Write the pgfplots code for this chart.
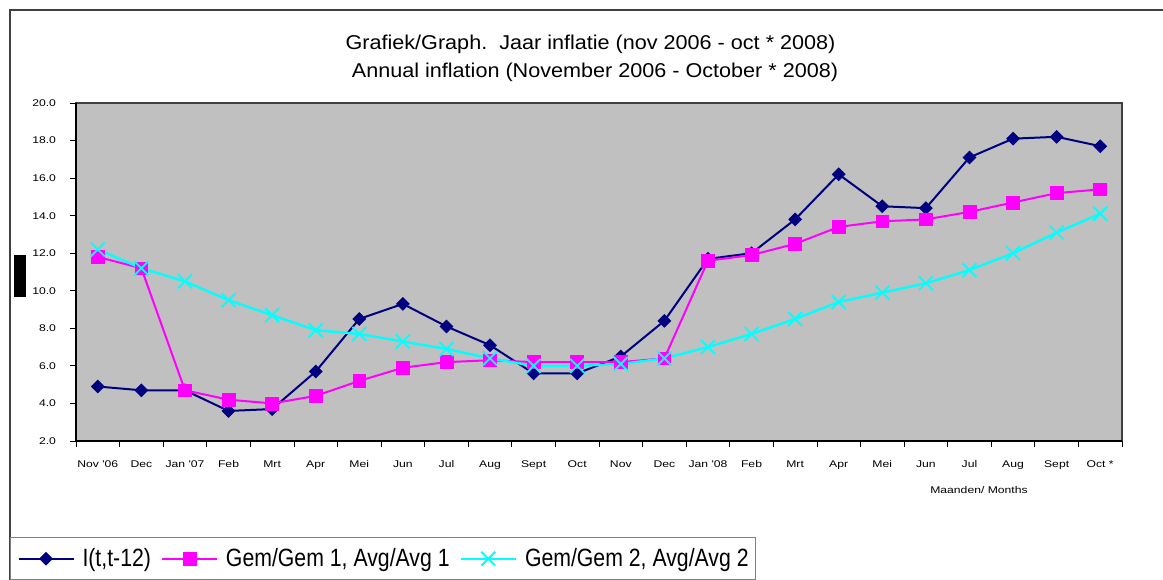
\documentclass[border=0pt]{standalone}
\usepackage{fontspec}
\setmainfont{Liberation Sans}
\newfontfamily\titlefont[FakeStretch=1.08]{Liberation Sans}
\newfontfamily\tickfont[FakeStretch=1.25]{Liberation Sans}
\newfontfamily\legfont[FakeStretch=0.85]{Liberation Sans}
\usepackage{pgfplots}
\usepackage{pgfplotstable}
\pgfplotsset{compat=1.18}
\definecolor{navyc}{HTML}{000080}
\definecolor{magc}{HTML}{FF00FF}
\definecolor{cyanc}{HTML}{00FFFF}
\definecolor{bgc}{HTML}{C0C0C0}
\definecolor{framec}{HTML}{404040}
\definecolor{legframe}{HTML}{808080}

\pgfplotstableread{
x I G1 G2
0 4.9 11.8 12.2
1 4.7 11.2 11.2
2 4.7 4.7 10.5
3 3.6 4.2 9.5
4 3.7 4.0 8.7
5 5.7 4.4 7.9
6 8.5 5.2 7.7
7 9.3 5.9 7.3
8 8.1 6.2 6.9
9 7.1 6.3 6.4
10 5.6 6.2 6.0
11 5.6 6.2 6.0
12 6.5 6.2 6.1
13 8.4 6.4 6.4
14 11.7 11.6 7.0
15 12.0 11.9 7.7
16 13.8 12.5 8.5
17 16.2 13.4 9.4
18 14.5 13.7 9.9
19 14.4 13.8 10.4
20 17.1 14.2 11.1
21 18.1 14.7 12.0
22 18.2 15.2 13.1
23 17.7 15.4 14.1
}\datatable

\begin{document}
\begin{tikzpicture}
\useasboundingbox (0,0) rectangle (872.25pt,435pt);
\clip (0,0) rectangle (872.25pt,435pt);
\fill[white] (0,0) rectangle (872.25pt,435pt);
% outer chart frame
\draw[framec, line width=0.9pt] (7.5pt,-5pt) -- (7.5pt,427.5pt) -- (880pt,427.5pt);
% title
\node[anchor=base, inner sep=0pt, font=\titlefont\fontsize{15}{18}\selectfont] at (442.9pt,397.9pt) {Grafiek/Graph.\ \ Jaar inflatie (nov 2006 - oct * 2008)};
\node[anchor=base, inner sep=0pt, font=\titlefont\fontsize{15}{18}\selectfont] at (446.25pt,376.5pt) {Annual inflation (November 2006 - October * 2008)};
% black box left
\fill[black] (10.5pt,212.25pt) rectangle (19.5pt,243.75pt);
\begin{axis}[
  at={(57pt,104.25pt)}, anchor=south west,
  scale only axis, width=784.5pt, height=253.5pt,
  xmin=-0.5, xmax=23.5, ymin=2, ymax=20,
  axis x line*=bottom, axis y line*=left,
  axis line style={-, black, line width=1.5pt},
  axis background/.style={fill=bgc, draw=framec, line width=0.8pt},
  xtick={-0.5,0.5,1.5,2.5,3.5,4.5,5.5,6.5,7.5,8.5,9.5,10.5,11.5,12.5,13.5,14.5,15.5,16.5,17.5,18.5,19.5,20.5,21.5,22.5,23.5},
  x tick label as interval,
  xticklabels={Nov '06,Dec,Jan '07,Feb,Mrt,Apr,Mei,Jun,Jul,Aug,Sept,Oct,Nov,Dec,Jan '08,Feb,Mrt,Apr,Mei,Jun,Jul,Aug,Sept,Oct *},
  xticklabel style={yshift=-6.5pt},
  ytick={2,4,...,20},
  yticklabel style={xshift=-7pt, /pgf/number format/.cd, fixed, fixed zerofill, precision=1, assume math mode=true},
  tick label style={font=\tickfont\fontsize{7.3}{8}\selectfont, text=black},
  tick style={black, line width=0.6pt},
  major tick length=4.5pt, tick align=outside,
  legend columns=3,
  legend style={at={(rel axis cs:-0.0631,-0.2855)}, anchor=north west,
    draw=legframe, line width=0.75pt, fill=white,
    inner xsep=5.25pt, inner ysep=8pt,
    font=\legfont\fontsize{18.75}{22}\selectfont,
    nodes={inner sep=0pt},
    /tikz/every odd column/.append style={column sep=6pt},
    /tikz/every even column/.append style={column sep=7.5pt}},
  legend image code/.code={\draw[mark repeat=2,mark phase=2,#1] plot coordinates {(0pt,0pt) (20.6pt,0pt) (41.25pt,0pt)};},
]
\addplot[navyc, line width=1.5pt, mark=square*, mark size=3.4pt, mark options={rotate=45, solid, fill=navyc, draw=navyc, line width=0.5pt}] table[x=x,y=I] {\datatable};
\addlegendentry{I(t,t-12)}
\addplot[magc, line width=1.5pt, mark=square*, mark size=4.8pt, mark options={solid, fill=magc, draw=magc, line width=0.5pt}] table[x=x,y=G1] {\datatable};
\addlegendentry{Gem/Gem 1, Avg/Avg 1}
\addplot[cyanc, line width=1.8pt, mark=x, mark size=7.4pt, mark options={solid, draw=cyanc, line width=1.4pt}] table[x=x,y=G2] {\datatable};
\addlegendentry{Gem/Gem 2, Avg/Avg 2}
\end{axis}
\node[anchor=base, inner sep=0pt, font=\tickfont\fontsize{7.3}{8}\selectfont] at (734.25pt,64.5pt) {Maanden/ Months};
\end{tikzpicture}
\end{document}
